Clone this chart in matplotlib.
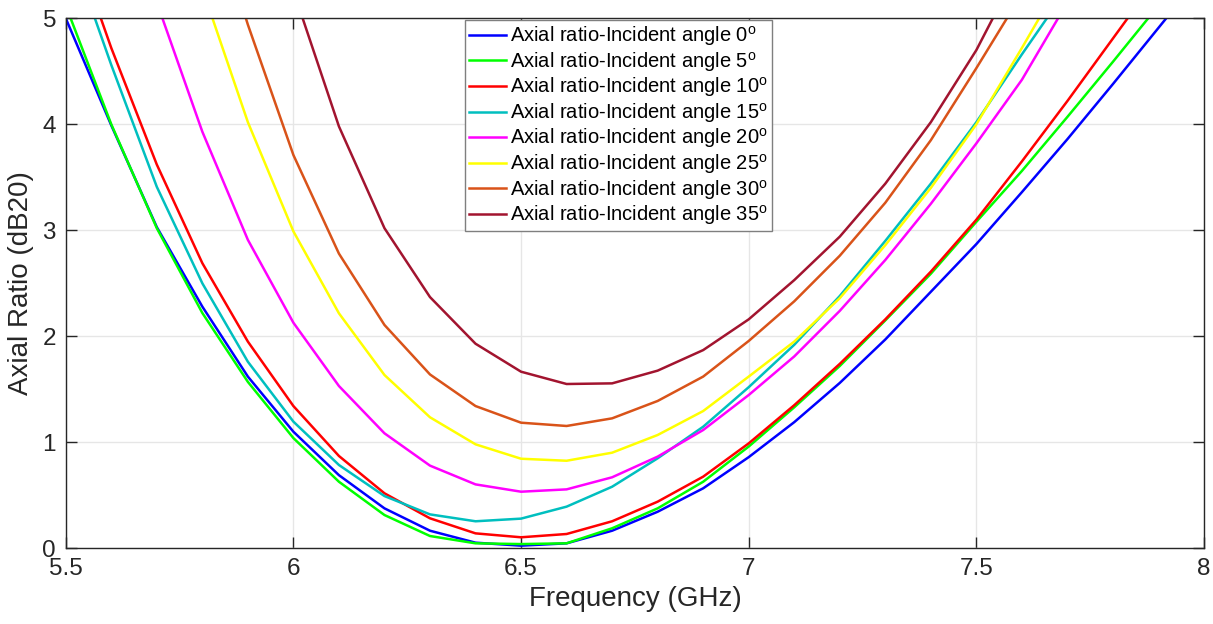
import matplotlib
matplotlib.use('Agg')
import matplotlib.pyplot as plt
import numpy as np

nan = np.nan

freq = [5.5, 5.6, 5.7, 5.8, 5.9, 6.0, 6.1, 6.2, 6.3, 6.4, 6.5, 6.6, 6.7,
        6.8, 6.9, 7.0, 7.1, 7.2, 7.3, 7.4, 7.5, 7.6, 7.7, 7.8, 7.9, 8.0]

ar_0 = [5.0, 3.99, 3.03, 2.28, 1.62, 1.10, 0.69, 0.377, 0.166, 0.053, 0.025, 0.047, 0.166,
        0.345, 0.566, 0.86, 1.19, 1.56, 1.97, 2.42, 2.87, 3.36, 3.86, 4.38, 4.91, 5.44]
ar_5 = [5.12, 4.0, 3.02, 2.22, 1.57, 1.04, 0.628, 0.314, 0.116, 0.047, 0.04, 0.047, 0.189,
        0.377, 0.628, 0.96, 1.33, 1.72, 2.15, 2.59, 3.08, 3.56, 4.07, 4.59, 5.12, nan]
ar_10 = [5.94, 4.72, 3.62, 2.69, 1.95, 1.342, 0.871, 0.519, 0.283, 0.141, 0.104, 0.135, 0.255,
         0.44, 0.676, 0.99, 1.35, 1.74, 2.16, 2.61, 3.10, 3.65, 4.22, 4.81, 5.40, nan]
ar_15 = [5.78, 4.56, 3.41, 2.50, 1.76, 1.195, 0.786, 0.493, 0.32, 0.255, 0.28, 0.393, 0.581,
         0.849, 1.147, 1.52, 1.92, 2.38, 2.90, 3.44, 4.02, 4.66, 5.28, nan, nan, nan]
ar_20 = [nan, nan, 5.15, 3.93, 2.91, 2.128, 1.531, 1.085, 0.78, 0.603, 0.534, 0.556, 0.67,
         0.865, 1.116, 1.446, 1.81, 2.24, 2.72, 3.25, 3.82, 4.42, 5.15, nan, nan, nan]
ar_25 = [nan, nan, nan, 5.28, 4.02, 2.99, 2.217, 1.635, 1.236, 0.981, 0.845, 0.826, 0.902,
         1.069, 1.295, 1.62, 1.95, 2.36, 2.86, 3.40, 4.0, 4.72, 5.46, nan, nan, nan]
ar_30 = [nan, nan, nan, 6.3, 4.94, 3.71, 2.78, 2.107, 1.64, 1.342, 1.185, 1.154, 1.226,
         1.39, 1.62, 1.956, 2.33, 2.76, 3.26, 3.85, 4.53, 5.23, nan, nan, nan, nan]
ar_35 = [nan, nan, nan, nan, nan, 5.26, 3.98, 3.02, 2.37, 1.93, 1.666, 1.55, 1.556,
         1.676, 1.87, 2.16, 2.53, 2.94, 3.44, 4.02, 4.70, 5.53, nan, nan, nan, nan]

angles = [0, 5, 10, 15, 20, 25, 30, 35]
series = [ar_0, ar_5, ar_10, ar_15, ar_20, ar_25, ar_30, ar_35]
colors = ['#0000ff', '#00ff00', '#ff0000', '#00bfbf', '#ff00ff', '#ffff00', '#d95319', '#a2142f']

plt.rcParams['font.family'] = ['Liberation Sans', 'DejaVu Sans']
plt.rcParams['mathtext.fontset'] = 'custom'
plt.rcParams['mathtext.rm'] = 'Liberation Sans'

fig = plt.figure(figsize=(12.13, 6.24), dpi=100)
ax = fig.add_axes([0.0542, 0.1213, 0.9384, 0.8494])

for vals, ang, col in zip(series, angles, colors):
    ax.plot(freq, vals, color=col, linewidth=1.8,
            label='Axial ratio-Incident angle %d$^{\\mathrm{o}}$' % ang)

ax.set_xlim(5.5, 8)
ax.set_ylim(0, 5)
ax.set_xticks([5.5, 6, 6.5, 7, 7.5, 8])
ax.set_xticklabels(['5.5', '6', '6.5', '7', '7.5', '8'])
ax.set_yticks([0, 1, 2, 3, 4, 5])
ax.grid(True, color='#e6e6e6', linewidth=1)
ax.set_axisbelow(True)
ax.tick_params(direction='in', length=8, width=1, top=True, right=True,
               labelsize=17.5, colors='#262626', pad=7)
for s in ax.spines.values():
    s.set_color('#262626')
    s.set_linewidth(1)

ax.set_xlabel('Frequency (GHz)', fontsize=20, color='#262626', labelpad=4)
ax.set_ylabel('Axial Ratio (dB20)', fontsize=20, color='#262626', labelpad=6)

leg = ax.legend(loc='upper left', bbox_to_anchor=(465 / 1213, 1 - 20 / 624),
                bbox_transform=fig.transFigure, borderaxespad=0, fontsize=14.5,
                fancybox=False, framealpha=1, edgecolor='#7f7f7f',
                handlelength=1.85, handletextpad=0.2, labelspacing=0.08,
                borderpad=0.2)
leg.get_frame().set_linewidth(1)

fig.savefig('out.png', dpi=100)
